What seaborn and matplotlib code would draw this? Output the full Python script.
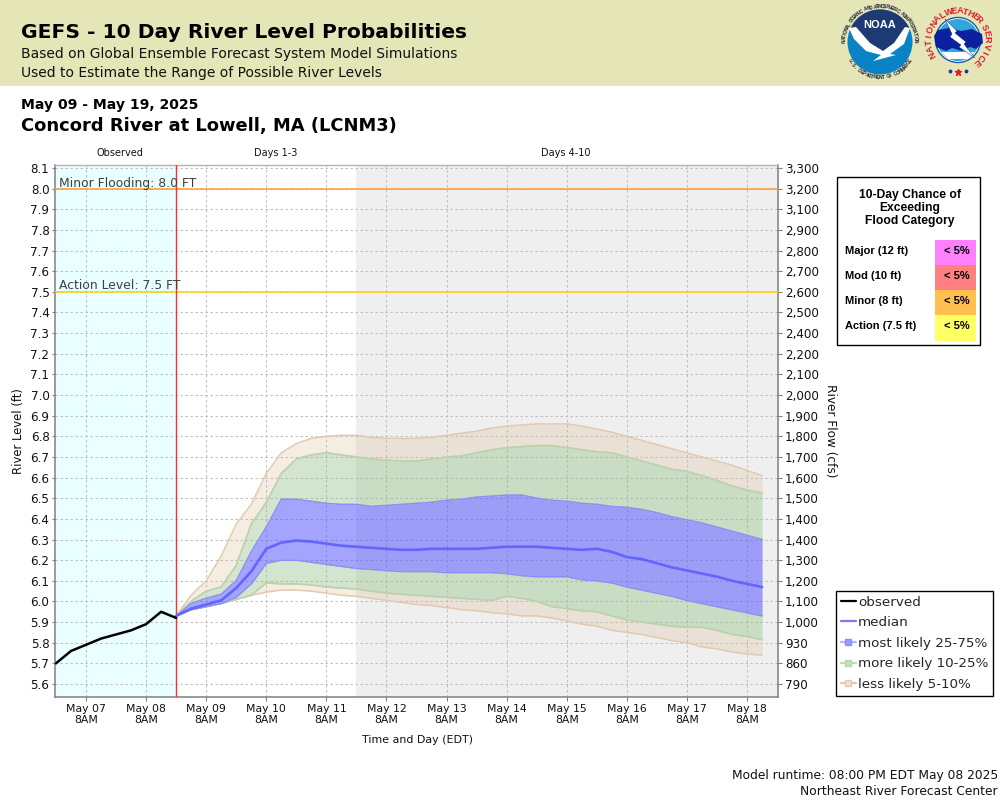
import numpy as np
import pandas as pd
import matplotlib
matplotlib.use("Agg")
import matplotlib.pyplot as plt
import seaborn as sns
from matplotlib.patches import Circle, Rectangle, Polygon
from matplotlib.lines import Line2D

# ---------- data ----------
obs_days = [-0.5,-0.25,0,0.25,0.5,0.75,1,1.25,1.5]
observed = [5.70,5.76,5.79,5.82,5.84,5.86,5.89,5.95,5.92]
fc_days = [1.5+0.25*i for i in range(40)]
p95 = [5.93,6.03,6.10,6.22,6.375,6.47,6.62,6.72,6.765,6.79,6.80,6.805,6.805,
       6.795,6.79,6.79,6.79,6.795,6.805,6.815,6.825,6.84,6.85,6.855,6.86,6.86,6.86,
       6.85,6.835,6.82,6.80,6.78,6.76,6.74,6.72,6.70,6.68,6.66,6.635,6.61]
p90 = [5.93,6.00,6.05,6.07,6.175,6.375,6.48,6.62,6.69,6.71,6.72,6.71,6.70,
       6.69,6.685,6.68,6.68,6.69,6.70,6.705,6.72,6.735,6.745,6.75,6.755,6.755,6.745,
       6.735,6.725,6.72,6.70,6.68,6.66,6.64,6.63,6.61,6.585,6.56,6.54,6.525]
p75 = [5.93,5.99,6.015,6.035,6.10,6.24,6.36,6.495,6.495,6.485,6.475,6.47,6.47,
       6.46,6.465,6.47,6.475,6.48,6.49,6.495,6.505,6.51,6.515,6.515,6.50,6.49,6.485,
       6.475,6.47,6.46,6.455,6.445,6.43,6.41,6.395,6.38,6.36,6.34,6.32,6.30]
median = [5.93,5.965,5.985,6.005,6.065,6.145,6.255,6.285,6.295,6.29,6.28,6.27,6.265,
          6.26,6.255,6.25,6.25,6.255,6.255,6.255,6.255,6.26,6.265,6.265,6.265,6.26,6.255,
          6.25,6.255,6.24,6.215,6.205,6.185,6.165,6.15,6.135,6.12,6.10,6.085,6.07]
p25 = [5.93,5.96,5.975,5.99,6.02,6.085,6.185,6.20,6.20,6.19,6.18,6.17,6.16,
       6.155,6.15,6.145,6.145,6.145,6.14,6.14,6.14,6.14,6.135,6.125,6.12,6.12,6.12,
       6.105,6.10,6.09,6.07,6.055,6.04,6.025,6.005,5.99,5.975,5.96,5.945,5.93]
p10 = [5.93,5.96,5.975,5.99,6.01,6.03,6.09,6.085,6.085,6.08,6.07,6.065,6.06,
       6.05,6.04,6.035,6.03,6.025,6.02,6.015,6.01,6.005,6.025,6.015,6.00,5.975,5.965,
       5.955,5.95,5.93,5.91,5.90,5.89,5.88,5.875,5.875,5.86,5.84,5.83,5.815]
p5 = [5.93,5.96,5.975,5.99,6.01,6.03,6.045,6.055,6.055,6.05,6.04,6.03,6.025,
      6.015,6.005,5.995,5.985,5.98,5.97,5.96,5.955,5.945,5.94,5.93,5.93,5.92,5.905,
      5.89,5.88,5.86,5.85,5.84,5.825,5.81,5.80,5.78,5.77,5.755,5.745,5.74]

x_tick_days = list(range(12))
x_tick_labels = [f"May {d:02d}\n8AM" for d in range(7,19)]
y_ticks = [round(5.6+0.1*i,1) for i in range(26)]
flow_labels = ["790","860","930","1,000","1,100","1,200","1,300","1,400","1,400","1,500",
               "1,600","1,700","1,800","1,900","2,000","2,100","2,200","2,400","2,500",
               "2,600","2,700","2,800","2,900","3,100","3,200","3,300"]
flood_names = ["Major (12 ft)","Mod (10 ft)","Minor (8 ft)","Action (7.5 ft)"]
flood_chance = ["< 5%","< 5%","< 5%","< 5%"]
flood_colors = ["#ff80ff","#ff8080","#ffc050","#ffff66"]

# ---------- setup ----------
sns.set_theme(style="white")
plt.rcParams['font.family'] = ['DejaVu Sans']
W,H = 1000,800
fig = plt.figure(figsize=(10,8),dpi=100,facecolor="white")
def px_axes(l,t,r,b,**k):
    return fig.add_axes([l/W,1-b/H,(r-l)/W,(b-t)/H],**k)

ax = px_axes(55,165,778,697)
ax.set_xlim(-0.516,11.515)
ax.set_ylim(5.537,8.1145)
ax.set_facecolor("white")
GRID="#c0c0c0"
ax.axvspan(-0.516,1.5,color="#eaffff",lw=0,zorder=0)
ax.axvspan(4.5,11.515,color="#efefef",lw=0,zorder=0)
ax.set_axisbelow(True)
ax.grid(True,color=GRID,ls=(0,(2.4,2.4)),lw=0.75,zorder=1)

TAN,GREEN="#d9b48f","#8dbd80"
def band(lo,hi,col,alpha,edge):
    ax.fill_between(fc_days,lo,hi,color=col,alpha=alpha,lw=0,zorder=2)
    ax.plot(fc_days,hi,color=edge,lw=1.1,zorder=2.5)
    ax.plot(fc_days,lo,color=edge,lw=1.1,zorder=2.5)
band(p90,p95,TAN,0.25,"#e3c9ae")
band(p5,p10,TAN,0.25,"#e3c9ae")
band(p75,p90,GREEN,0.38,"#b8d4ac")
band(p10,p25,GREEN,0.38,"#b8d4ac")
ax.fill_between(fc_days,p25,p75,color="#5858ff",alpha=0.54,lw=0,zorder=2)
ax.plot(fc_days,p75,color="#8c8cff",lw=1.1,zorder=2.5)
ax.plot(fc_days,p25,color="#8c8cff",lw=1.1,zorder=2.5)

ax.axhline(8.0,color="#ff9a30",lw=1.1,zorder=3)
ax.axhline(7.5,color="#ffd000",lw=1.1,zorder=3)
ax.axvline(1.5,color="#ff3030",lw=1.0,zorder=3)

sns.lineplot(x=fc_days,y=median,ax=ax,color="#6464ff",lw=1.9,zorder=4,errorbar=None)
sns.lineplot(x=obs_days,y=observed,ax=ax,color="black",lw=1.8,zorder=5,errorbar=None)

TICK=8.6
ax.text(-0.45,8.008,"Minor Flooding: 8.0 FT",fontsize=8.9,color="#404040",va="baseline",zorder=6)
ax.text(-0.45,7.515,"Action Level: 7.5 FT",fontsize=8.9,color="#404040",va="baseline",zorder=6)

ax.set_xticks(x_tick_days); ax.set_xticklabels(x_tick_labels,fontsize=7.8,color="#111111",linespacing=1.15)
ax.set_yticks(y_ticks); ax.set_yticklabels([f"{v:.1f}" for v in y_ticks],fontsize=TICK,color="#111111")
ax.tick_params(axis="x",length=3,width=0.8,color="#808080",pad=2,bottom=True)
ax.tick_params(axis="y",length=2.5,width=0.8,color="#808080",pad=1.5,left=True)
for s in ["left","bottom","right"]:
    ax.spines[s].set_color("#808080"); ax.spines[s].set_linewidth(1.1)
ax.spines["top"].set_color("#b4b4b4"); ax.spines["top"].set_linewidth(1.0)

ax2 = ax.twinx()
ax2.set_ylim(ax.get_ylim())
ax2.set_yticks(y_ticks); ax2.set_yticklabels(flow_labels,fontsize=TICK,color="#111111")
ax2.tick_params(axis="y",length=3,width=0.8,color="#808080",pad=2,right=True)
for s in ax2.spines.values(): s.set_visible(False)

handles=[Line2D([],[],color="black",lw=1.6),
         Line2D([],[],color="#7a7aff",lw=1.6),
         Line2D([],[],color="#b4b4ff",lw=1.6,marker="s",ms=5,mfc="#9c9cfa",mec="#8c8cff"),
         Line2D([],[],color="#c0dab4",lw=1.6,marker="s",ms=5,mfc="#c9e0bd",mec="#b8d4ac"),
         Line2D([],[],color="#e3c9ae",lw=1.6,marker="s",ms=5,mfc="#efe3d4",mec="#e3c9ae")]
leg=fig.legend(handles,["observed","median","most likely 25-75%","more likely 10-25%","less likely 5-10%"],
    loc="upper left",bbox_to_anchor=(835.5/W,1-590.5/H),fontsize=9.7,frameon=True,fancybox=False,
    edgecolor="black",framealpha=1,borderpad=0.38,labelspacing=0.56,handlelength=1.12,handletextpad=0.16,borderaxespad=0)
leg.get_frame().set_linewidth(1.0)

# ---------- overlay ----------
ov = fig.add_axes([0,0,1,1],zorder=10)
ov.set_xlim(0,W); ov.set_ylim(H,0); ov.axis("off"); ov.patch.set_alpha(0)
ov.add_patch(Rectangle((0,0),W,86,color="#e5e6b8",lw=0))
ov.text(21,33,"GEFS - 10 Day River Level Probabilities",fontsize=14.6,fontweight="bold",color="black",va="center")
ov.text(21,54,"Based on Global Ensemble Forecast System Model Simulations",fontsize=10,color="#111111",va="center")
ov.text(21,73,"Used to Estimate the Range of Possible River Levels",fontsize=10,color="#111111",va="center")
ov.text(21,105,"May 09 - May 19, 2025",fontsize=10.1,fontweight="bold",color="black",va="center")
ov.text(21,125.5,"Concord River at Lowell, MA (LCNM3)",fontsize=12.9,fontweight="bold",color="black",va="center")
ov.text(120,153.5,"Observed",fontsize=7,ha="center",va="center",color="#111111")
ov.text(276,153.5,"Days 1-3",fontsize=7,ha="center",va="center",color="#111111")
ov.text(566,153.5,"Days 4-10",fontsize=7,ha="center",va="center",color="#111111")
ov.text(19,431,"River Level (ft)",fontsize=8.4,rotation=90,ha="center",va="center",color="#111111")
ov.text(831,431,"River Flow (cfs)",fontsize=8.7,rotation=270,ha="center",va="center",color="#111111")
ov.text(417,740,"Time and Day (EDT)",fontsize=7.9,ha="center",va="center",color="#111111")
ov.text(998,775.5,"Model runtime: 08:00 PM EDT May 08 2025",fontsize=8.8,ha="right",va="center",color="#111111")
ov.text(998,791.5,"Northeast River Forecast Center",fontsize=8.8,ha="right",va="center",color="#111111")

# flood category box
ov.add_patch(Rectangle((836.5,177),143.5,168,fc="white",ec="black",lw=1.0))
ARIAL="Liberation Sans"
for yy,t in zip([195,208,221],["10-Day Chance of","Exceeding","Flood Category"]):
    ov.text(910,yy,t,family=ARIAL,fontsize=8.7,fontweight="bold",ha="center",va="center",color="black")
tops=[240,265,290,315]; hts=[25,25,25,26]
for t,h,n,c,col in zip(tops,hts,flood_names,flood_chance,flood_colors):
    ov.add_patch(Rectangle((935,t),41,h,color=col,lw=0))
    ov.text(845,t+11,n,family=ARIAL,fontsize=8,fontweight="bold",va="center",color="black")
    ov.text(957,t+11,c,family=ARIAL,fontsize=8,fontweight="bold",ha="center",va="center",color="black")

# logos
def ring(cx,cy,r,txt,a0,a1,fs,col,weight="normal",invert=False):
    angs=np.linspace(a0,a1,len(txt))
    for ch,a in zip(txt,angs):
        x=cx+r*np.cos(np.radians(a)); y=cy-r*np.sin(np.radians(a))
        ov.text(x,y,ch,fontsize=fs,color=col,ha="center",va="center",fontweight=weight,
                rotation=(a+90 if invert else a-90),rotation_mode="anchor",family=ARIAL)
# NOAA
cx,cy=880,42
ov.add_patch(Circle((cx,cy),32.5,fc="#0a82c6",ec="none"))
th=np.radians(np.linspace(25,155,40))
navy=[(cx+32.5*np.cos(t),cy-32.5*np.sin(t)) for t in th]+[(cx-25,cy-8),(cx-10,cy+4),(cx+2,cy+11),(cx+14,cy+2),(cx+24,cy-9)]
ov.add_patch(Polygon(navy,fc="#1e3a74",ec="none"))
wing=[(cx-31,cy-14),(cx-24,cy-15),(cx-10,cy+1),(cx+3,cy+9),(cx+14,cy+1),(cx+25,cy-15),(cx+30,cy-14),
      (cx+24,cy+2),(cx+10,cy+12),(cx+16,cy+13),(cx-7,cy+19),(cx+1,cy+13),(cx-14,cy+9),(cx-26,cy-3)]
ov.add_patch(Polygon(wing,fc="white",ec="none"))
ov.text(cx,cy-17,"NOAA",fontsize=8,color="white",ha="center",va="center",family=ARIAL,fontweight="bold")
ring(cx,cy,35.5,"NATIONAL OCEANIC AND ATMOSPHERIC ADMINISTRATION",178,2,3.4,"#223","bold")
ring(cx,cy,35.5,"U.S. DEPARTMENT OF COMMERCE",212,328,3.4,"#223","bold",invert=True)
# NWS
cx,cy=958,40
ov.add_patch(Circle((cx,cy),22.5,fc="white",ec="#1e5aa8",lw=1))
ov.add_patch(Circle((cx,cy),21,fc="#2fa7dc",ec="none"))
ov.add_patch(Polygon([(cx-17,cy+12),(cx+17,cy+12),(cx+10,cy+19),(cx-10,cy+19)],fc="white",ec="none"))
cloud=[(-24,-4),(-20,-10),(-9,-12),(3,-9),(14,-11),(24,-6),(25,3),(18,9),(12,7),(4,11),(-6,8),(-12,11),(-22,7)]
ov.add_patch(Polygon([(cx+a,cy+b) for a,b in cloud],fc="#0c1f9e",ec="none"))
ov.add_patch(Polygon([(cx-13,cy-21),(cx-1,cy-9),(cx-3,cy-7),(cx+8,cy+2),(cx+6,cy+4),(cx+17,cy+18),
                      (cx+1,cy+7),(cx+3,cy+5),(cx-8,cy-3),(cx-6,cy-6)],fc="white",ec="#0c1f9e",lw=0.3))
ring(cx,cy,29,"NATIONAL",210,122,6.5,"#d81f2a","bold")
ring(cx,cy,29,"WEATHER",108,44,6.5,"#d81f2a","bold")
ring(cx,cy,29,"SERVICE",26,-50,6.5,"#d81f2a","bold")
ov.plot([cx-8,cx+8],[cy+31,cy+31],ls="none",marker="o",ms=1.8,color="#1e3a9e")
ov.plot([cx],[cy+32],ls="none",marker="*",ms=5,color="#d81f2a")

fig.savefig("out.png",dpi=100)
